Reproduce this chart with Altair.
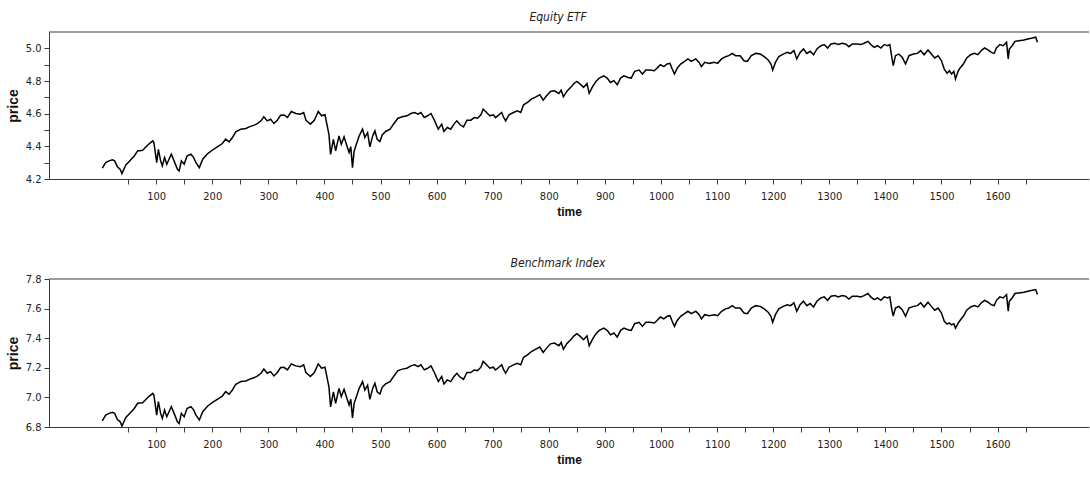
import altair as alt
import pandas as pd

# Trading-day index shared by both series
time = [
    4, 10, 16, 22, 26, 31, 36, 39, 46, 52, 61, 67, 76, 82, 88, 94, 96, 101, 104, 108,
    111, 115, 119, 123, 127, 132, 138, 141, 145, 150, 155, 162, 167, 171, 177, 183, 192, 200, 209, 218,
    224, 230, 236, 242, 251, 260, 266, 275, 281, 287, 292, 298, 304, 310, 316, 322,
    328, 334, 341, 349, 357, 363, 367, 375, 382, 389, 395, 401, 405, 408, 411, 416, 420, 426, 430, 435,
    440, 444, 447, 450, 453, 458, 462, 468, 472, 477, 481, 486, 490, 494, 499, 503, 509, 517, 524, 531,
    539, 547, 554, 561, 567, 572, 578, 584, 590, 596, 603, 609, 613, 619, 625, 631, 636, 642, 648, 654,
    661, 667,
    673, 679, 683, 689, 695, 701, 705, 711, 716, 719, 723, 729, 737, 744, 750, 755, 762, 769, 777, 784,
    790, 796, 803, 810, 818, 822, 826, 832, 839, 845, 850, 856, 862, 868, 872, 878, 884, 890, 898, 904,
    910, 916, 922, 928, 934, 941, 947, 953, 961, 967, 973, 980, 988, 993, 999, 1005,
    1011, 1016, 1020, 1024, 1029, 1035, 1042, 1048, 1054, 1062, 1068, 1072, 1078, 1086, 1095, 1101,
    1108, 1115, 1121, 1127, 1133, 1141, 1148, 1154, 1161, 1169, 1177, 1184, 1191, 1196, 1199, 1204,
    1210, 1218, 1225, 1231, 1237, 1242, 1248, 1254, 1260, 1266, 1272, 1278, 1285, 1291, 1297, 1303,
    1310, 1316, 1323, 1329, 1335, 1341,
    1350, 1356, 1362, 1369, 1374, 1380, 1386, 1392, 1398, 1404, 1408, 1411, 1414, 1418, 1424, 1430,
    1436, 1442, 1450, 1457, 1463, 1469, 1476, 1482, 1488, 1494, 1500, 1505, 1510, 1514, 1518, 1522,
    1525, 1530, 1534, 1539, 1545, 1552, 1559, 1565, 1571, 1577, 1583, 1589, 1594, 1598, 1604, 1610,
    1616, 1619, 1621, 1626, 1631, 1638, 1647, 1654, 1662, 1668, 1671,
]

# Log price of the equity ETF
equity_etf = [
    4.266, 4.300, 4.311, 4.317, 4.311, 4.274, 4.259, 4.233, 4.286, 4.307, 4.341, 4.372, 4.376, 4.397,
    4.417, 4.433, 4.423, 4.300, 4.382, 4.311, 4.280, 4.331, 4.290, 4.321, 4.352, 4.311, 4.259, 4.249,
    4.311, 4.290, 4.341, 4.352, 4.331, 4.300, 4.270, 4.321, 4.356, 4.376, 4.397, 4.417, 4.444, 4.427,
    4.454, 4.489, 4.505, 4.509, 4.519, 4.530, 4.540, 4.556, 4.581, 4.556, 4.566, 4.540, 4.560, 4.591,
    4.592, 4.577, 4.613, 4.601, 4.597, 4.607, 4.560, 4.536, 4.560, 4.613, 4.587, 4.593, 4.525, 4.474,
    4.351, 4.443, 4.372, 4.464, 4.413, 4.458, 4.403, 4.362, 4.397, 4.270, 4.372, 4.423, 4.464, 4.505,
    4.454, 4.484, 4.397, 4.464, 4.495, 4.443, 4.429, 4.470, 4.491, 4.505, 4.540, 4.572, 4.581, 4.587,
    4.601, 4.607, 4.597, 4.607, 4.577, 4.587, 4.601, 4.560, 4.505, 4.536, 4.491, 4.515, 4.505, 4.536,
    4.556, 4.532, 4.519, 4.560, 4.560, 4.576,
    4.572, 4.593, 4.628, 4.607, 4.587, 4.593, 4.576, 4.593, 4.607, 4.581, 4.556, 4.593, 4.607, 4.617,
    4.607, 4.654, 4.669, 4.689, 4.703, 4.716, 4.683, 4.710, 4.736, 4.740, 4.724, 4.744, 4.703, 4.736,
    4.761, 4.785, 4.797, 4.781, 4.761, 4.785, 4.724, 4.765, 4.797, 4.818, 4.832, 4.818, 4.791, 4.802,
    4.777, 4.818, 4.832, 4.822, 4.818, 4.859, 4.867, 4.843, 4.867, 4.867, 4.863, 4.879, 4.900, 4.888,
    4.904, 4.908, 4.873, 4.843, 4.879, 4.904, 4.920, 4.935, 4.920, 4.935, 4.914, 4.888, 4.914, 4.908,
    4.914, 4.908, 4.935, 4.949, 4.955, 4.969, 4.955, 4.955, 4.924, 4.920, 4.955, 4.969, 4.965, 4.949,
    4.929, 4.904, 4.867, 4.914, 4.949, 4.965, 4.975, 4.969, 4.986, 4.935, 4.975, 4.996, 4.969, 4.982,
    4.961, 4.996, 5.016, 5.023, 5.002, 5.027, 5.031, 5.023, 5.031, 5.027, 5.010, 5.027,
    5.027, 5.023, 5.031, 5.043, 5.023, 5.006, 5.016, 5.002, 5.023, 5.016, 5.023, 4.955, 4.894, 4.955,
    4.965, 4.945, 4.904, 4.955, 4.965, 4.969, 4.986, 4.961, 4.990, 4.965, 4.941, 4.955, 4.924, 4.873,
    4.847, 4.863, 4.843, 4.859, 4.812, 4.863, 4.883, 4.904, 4.941, 4.961, 4.969, 4.961, 4.986, 5.002,
    4.990, 4.975, 4.969, 5.002, 5.023, 5.016, 5.037, 4.935, 4.996, 5.016, 5.043, 5.047, 5.051, 5.057,
    5.063, 5.068, 5.037,
]

# Log level of the benchmark index
benchmark_index = [
    6.842, 6.880, 6.892, 6.899, 6.892, 6.851, 6.835, 6.806, 6.865, 6.888, 6.925, 6.960, 6.964, 6.987,
    7.009, 7.027, 7.016, 6.880, 6.971, 6.892, 6.858, 6.914, 6.869, 6.903, 6.938, 6.892, 6.835, 6.824,
    6.892, 6.869, 6.925, 6.938, 6.914, 6.880, 6.847, 6.903, 6.942, 6.964, 6.987, 7.009, 7.039, 7.021,
    7.050, 7.089, 7.107, 7.111, 7.122, 7.134, 7.145, 7.163, 7.191, 7.163, 7.174, 7.145, 7.168, 7.202,
    7.203, 7.186, 7.226, 7.213, 7.208, 7.220, 7.168, 7.141, 7.168, 7.226, 7.197, 7.204, 7.129, 7.072,
    6.936, 7.038, 6.960, 7.061, 7.005, 7.055, 6.994, 6.949, 6.987, 6.862, 6.960, 7.016, 7.061, 7.107,
    7.050, 7.083, 6.987, 7.061, 7.096, 7.038, 7.023, 7.068, 7.091, 7.107, 7.145, 7.181, 7.191, 7.197,
    7.213, 7.220, 7.208, 7.220, 7.186, 7.197, 7.213, 7.168, 7.107, 7.141, 7.091, 7.118, 7.107, 7.141,
    7.163, 7.137, 7.122, 7.168, 7.168, 7.185,
    7.181, 7.204, 7.243, 7.220, 7.197, 7.204, 7.185, 7.204, 7.220, 7.191, 7.163, 7.204, 7.220, 7.231,
    7.220, 7.271, 7.288, 7.310, 7.326, 7.340, 7.304, 7.333, 7.362, 7.367, 7.349, 7.371, 7.326, 7.362,
    7.390, 7.416, 7.430, 7.412, 7.390, 7.416, 7.349, 7.394, 7.430, 7.453, 7.468, 7.453, 7.423, 7.435,
    7.407, 7.453, 7.468, 7.457, 7.453, 7.498, 7.507, 7.480, 7.507, 7.507, 7.503, 7.520, 7.543, 7.530,
    7.548, 7.552, 7.514, 7.480, 7.520, 7.548, 7.566, 7.582, 7.566, 7.582, 7.559, 7.530, 7.559, 7.552,
    7.559, 7.552, 7.582, 7.598, 7.604, 7.620, 7.604, 7.604, 7.570, 7.566, 7.604, 7.620, 7.615, 7.598,
    7.576, 7.548, 7.507, 7.559, 7.598, 7.615, 7.626, 7.620, 7.639, 7.582, 7.626, 7.650, 7.620, 7.634,
    7.611, 7.650, 7.672, 7.679, 7.656, 7.684, 7.688, 7.679, 7.688, 7.684, 7.665, 7.684,
    7.684, 7.679, 7.688, 7.702, 7.679, 7.661, 7.672, 7.656, 7.679, 7.672, 7.679, 7.604, 7.550, 7.604,
    7.615, 7.593, 7.548, 7.604, 7.615, 7.620, 7.639, 7.611, 7.643, 7.615, 7.589, 7.604, 7.570, 7.514,
    7.495, 7.503, 7.490, 7.498, 7.468, 7.503, 7.525, 7.548, 7.589, 7.611, 7.620, 7.611, 7.639, 7.656,
    7.643, 7.626, 7.620, 7.656, 7.679, 7.672, 7.695, 7.582, 7.650, 7.672, 7.702, 7.706, 7.710, 7.717,
    7.724, 7.729, 7.695,
]

# Axis ticks
x_ticks = list(range(50, 1700, 50))
etf_ticks = [4.2, 4.3, 4.4, 4.5, 4.6, 4.7, 4.8, 4.9, 5.0]
index_ticks = [6.8, 7.0, 7.2, 7.4, 7.6, 7.8]

NARROW = "Liberation Sans Narrow, DejaVu Sans Condensed, Liberation Sans, sans-serif"
BOLD = "Liberation Sans, sans-serif"
AXIS_COLOR = "#3a3a3a"
X_DOMAIN = [-91, 1763]


def panel(title, values, y_domain, y_ticks, height, title_offset):
    df = pd.DataFrame({"time": time, "price": values})
    y_scale = alt.Scale(domain=y_domain, nice=False, zero=False)

    x_axis = alt.Axis(
        title="time",
        values=x_ticks,
        labelExpr="datum.value % 100 === 0 ? format(datum.value, 'd') : ''",
        labelOverlap=False,
        grid=False,
        tickSize=5,
        labelPadding=6,
        titlePadding=5,
        labelFont=NARROW,
        labelFontSize=11,
        titleFont=BOLD,
        titleFontSize=12,
        titleFontWeight="bold",
    )
    y_axis = alt.Axis(
        title="price",
        values=y_ticks,
        labelExpr="round(datum.value * 10) % 2 === 0 ? format(datum.value, '.1f') : ''",
        labelOverlap=False,
        labelFlush=False,
        grid=False,
        tickSize=5,
        labelPadding=3,
        titlePadding=5,
        labelFont=NARROW,
        labelFontSize=11,
        titleFont=BOLD,
        titleFontSize=14,
        titleFontWeight="bold",
    )

    line = alt.Chart(df).mark_line(color="black", strokeWidth=1.5).encode(
        x=alt.X("time:Q", scale=alt.Scale(domain=X_DOMAIN, nice=False, zero=False), axis=x_axis),
        y=alt.Y("price:Q", scale=y_scale, axis=y_axis),
    )

    # upper border of the plotting frame
    frame_top = alt.Chart(pd.DataFrame({"price": [y_domain[1]]})).mark_rule(
        color=AXIS_COLOR, strokeWidth=1
    ).encode(y=alt.Y("price:Q", scale=y_scale, axis=y_axis))

    return alt.layer(line, frame_top).properties(
        width=1040,
        height=height,
        title=alt.TitleParams(
            title,
            font=NARROW,
            fontSize=12,
            fontStyle="italic",
            fontWeight="normal",
            color="#222222",
            offset=title_offset,
            dx=-11,
        ),
    )


top = panel("Equity ETF", equity_etf, [4.2, 5.1], etf_ticks, 147, 8)
bottom = panel("Benchmark Index", benchmark_index, [6.8, 7.8], index_ticks, 148, 3)

chart = (
    alt.vconcat(top, bottom, spacing=40)
    .properties(padding={"left": 6, "top": 10, "right": 0, "bottom": 5}, background="white")
    .configure_view(stroke=None)
    .configure_axis(
        domainColor=AXIS_COLOR,
        tickColor=AXIS_COLOR,
        domainWidth=1,
        tickWidth=1,
        labelColor="#222222",
        titleColor="#111111",
    )
)

chart.save("out.html", embed_options={"renderer": "svg", "actions": False})
